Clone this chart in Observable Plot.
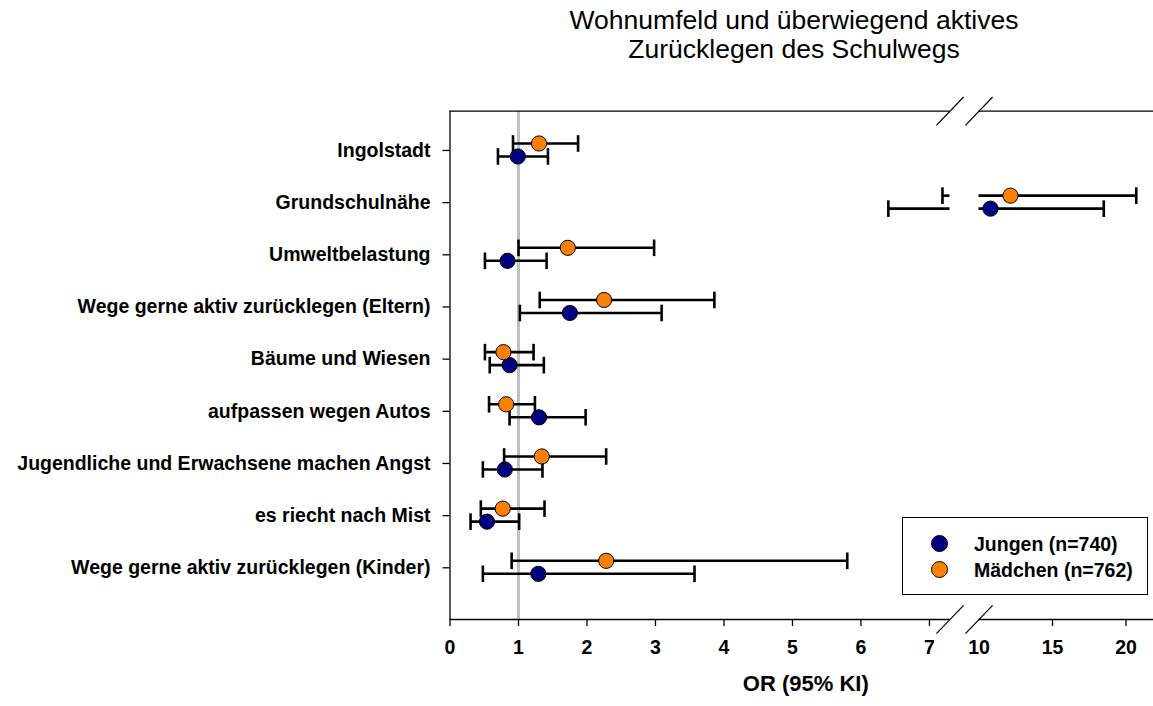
<!DOCTYPE html>
<html>
<head>
<meta charset="utf-8">
<script src="https://cdn.jsdelivr.net/npm/d3@7"></script>
<script src="https://cdn.jsdelivr.net/npm/@observablehq/plot@0.6"></script>
<style>
  body { margin: 0; background: #fff; font-family: "Liberation Sans", Arial, sans-serif; }
  #wrap { position: relative; width: 1153px; height: 706px; overflow: hidden; }
  #title { position: absolute; left: 494px; width: 600px; top: 6px; text-align: center;
           font-size: 26.5px; line-height: 29px; color: #000; }
  #chart { position: absolute; left: 0; top: 80px; }
  #legend { position: absolute; left: 902px; top: 517px; width: 244px; height: 76px;
            border: 1.3px solid #000; background: #fff; }
  .lrow { position: absolute; left: 0; height: 26px; width: 244px; }
  .lsw { position: absolute; left: 28px; top: 4px; width: 15px; height: 15px; border: 1px solid #000; border-radius: 50%; }
  .ltx { position: absolute; left: 71px; top: 0; line-height: 26px; font-size: 19.5px; font-weight: bold; color: #000; white-space: nowrap; }
</style>
</head>
<body>
<div id="wrap">
  <div id="title">Wohnumfeld und überwiegend aktives<br>Zurücklegen des Schulwegs</div>
  <div id="chart"></div>
  <div id="legend"></div>
</div>
<script>
// ---- data ----
const categories = [
  "Ingolstadt",
  "Grundschulnähe",
  "Umweltbelastung",
  "Wege gerne aktiv zurücklegen (Eltern)",
  "Bäume und Wiesen",
  "aufpassen wegen Autos",
  "Jugendliche und Erwachsene machen Angst",
  "es riecht nach Mist",
  "Wege gerne aktiv zurücklegen (Kinder)"
];
const boysOR  = [0.99, 10.78, 0.84, 1.75, 0.87, 1.30, 0.80, 0.54, 1.29];
const boysLo  = [0.70,  6.40, 0.51, 1.02, 0.58, 0.87, 0.48, 0.30, 0.48];
const boysHi  = [1.43, 18.49, 1.41, 3.09, 1.37, 1.98, 1.35, 1.01, 3.57];
const girlsOR = [1.30, 12.14, 1.72, 2.25, 0.78, 0.82, 1.34, 0.77, 2.28];
const girlsLo = [0.92,  7.19, 1.00, 1.31, 0.51, 0.57, 0.79, 0.45, 0.90];
const girlsHi = [1.87, 20.70, 2.98, 3.86, 1.22, 1.24, 2.28, 1.38, 5.80];
const seriesNames  = ["Jungen (n=740)", "Mädchen (n=762)"];
const seriesColors = ["#000080", "#ff8000"];
const xTickLabels = [0, 1, 2, 3, 4, 5, 6, 7, 10, 15, 20];
const xTickMarks  = [0, 1, 2, 3, 4, 5, 6, 7, 15, 20];
const referenceOR = 1;
const breakLo = 7.3, breakHi = 10, xMax = 21.9;

// ---- derived tables ----
const seriesValues = [
  {or: boysOR, lo: boysLo, hi: boysHi, dy: 6},
  {or: girlsOR, lo: girlsLo, hi: girlsHi, dy: -7}
];
const rowIdx = categories.map((c, i) => i);
const yTop = -0.753, yBottom = 8.991;

function splitSeg(lo, hi) {
  if (lo < breakLo && hi > breakHi) return [[lo, breakLo], [breakHi, hi]];
  return [[lo, hi]];
}

const vbar = {draw(ctx, size) { const r = Math.sqrt(size / Math.PI); ctx.moveTo(0, -r); ctx.lineTo(0, r); }};
const slash = {draw(ctx, size) { const r = Math.sqrt(size / Math.PI); ctx.moveTo(-0.69 * r, 0.72 * r); ctx.lineTo(0.69 * r, -0.72 * r); }};

const seriesMarks = seriesValues.flatMap((s, k) => {
  const pts = categories.map((c, i) => ({row: i, or: s.or[i], lo: s.lo[i], hi: s.hi[i]}));
  const segs = pts.flatMap(p => splitSeg(p.lo, p.hi).map(([a, b]) => ({row: p.row, a, b})));
  const caps = pts.flatMap(p => [{row: p.row, v: p.lo}, {row: p.row, v: p.hi}]);
  return [
    Plot.ruleY(segs, {y: "row", x1: "a", x2: "b", dy: s.dy, stroke: "#000", strokeWidth: 2.6}),
    Plot.dot(caps, {x: "v", y: "row", dy: s.dy, symbol: vbar, r: 8.3, fill: "none", stroke: "#000", strokeWidth: 2.6}),
    Plot.dot(pts, {x: "or", y: "row", dy: s.dy, r: 7.6, fill: seriesColors[k], stroke: "#000", strokeWidth: 1})
  ];
});

const frameSegs = [[0, breakLo], [breakHi, xMax]];

const chart = Plot.plot({
  width: 1153,
  height: 626,
  marginLeft: 449.5,
  marginRight: 0,
  marginTop: 30.7,
  marginBottom: 87,
  style: {fontFamily: "'Liberation Sans', Arial, sans-serif", background: "#fff", color: "#000"},
  x: {type: "linear", domain: [0, breakLo, breakHi, xMax], range: [449.5, 949.5, 978.5, 1153.4]},
  y: {type: "linear", domain: [yTop, yBottom], reverse: true},
  marks: [
    Plot.ruleX([referenceOR], {stroke: "#c0c0c0", strokeWidth: 3}),
    ...seriesMarks,
    Plot.ruleY(frameSegs, {y: yTop, x1: d => d[0], x2: d => d[1], stroke: "#000", strokeWidth: 1.3}),
    Plot.ruleY(frameSegs, {y: yBottom, x1: d => d[0], x2: d => d[1], stroke: "#000", strokeWidth: 1.3}),
    Plot.ruleX([0], {stroke: "#000", strokeWidth: 1.3}),
    Plot.dot([breakLo, breakHi], {x: d => d, y: yTop, symbol: slash, r: 19.7, fill: "none", stroke: "#000", strokeWidth: 1.2}),
    Plot.dot([breakLo, breakHi], {x: d => d, y: yBottom, symbol: slash, r: 19.7, fill: "none", stroke: "#000", strokeWidth: 1.2}),
    Plot.axisX({ticks: xTickMarks, tickSize: 7, tickFormat: () => "", label: null, stroke: "#000", strokeWidth: 1.3}),
    Plot.axisX({ticks: xTickLabels, tickSize: 0, tickPadding: 21, tickFormat: d => String(d), label: null,
                fontSize: 19.5, fontWeight: "bold", fill: "#000"}),
    Plot.axisY({ticks: rowIdx, tickSize: 7, tickPadding: 12.5, tickFormat: i => categories[i], label: null,
                fontSize: 19.5, fontWeight: "bold", fill: "#000", stroke: "#000", strokeWidth: 1.3}),
    Plot.text(["OR (95% KI)"], {frameAnchor: "bottom", dy: 71, dx: 4, fontSize: 22, fontWeight: "bold", fill: "#000"})
  ]
});
document.getElementById("chart").appendChild(chart);

// ---- legend ----
const legend = document.getElementById("legend");
seriesNames.forEach((name, k) => {
  const row = document.createElement("div");
  row.className = "lrow";
  row.style.top = (13 + k * 26) + "px";
  const sw = document.createElement("div");
  sw.className = "lsw";
  sw.style.background = seriesColors[k];
  const tx = document.createElement("div");
  tx.className = "ltx";
  tx.textContent = name;
  row.appendChild(sw);
  row.appendChild(tx);
  legend.appendChild(row);
});
</script>
</body>
</html>
